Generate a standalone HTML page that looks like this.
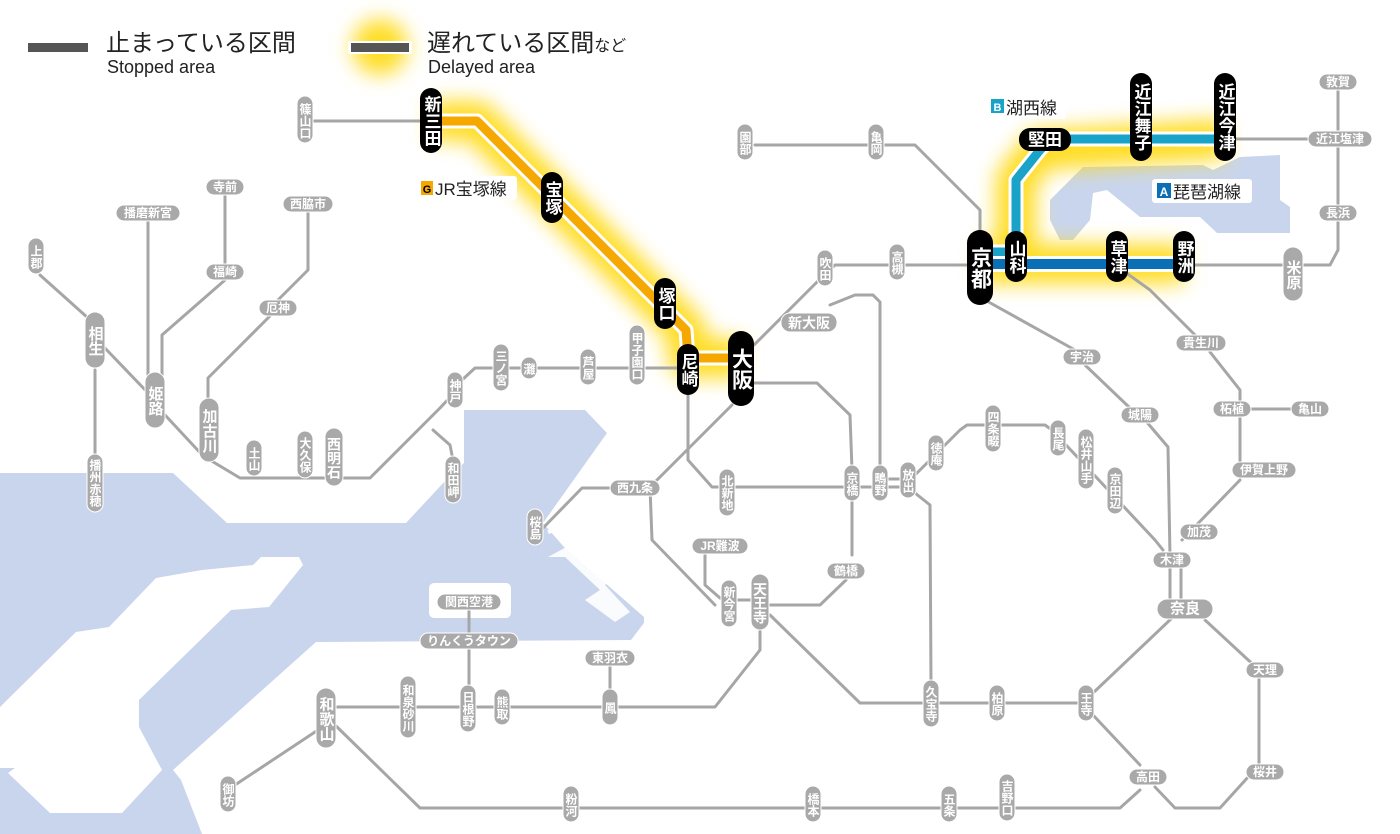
<!DOCTYPE html>
<html><head><meta charset="utf-8"><style>
html,body{margin:0;padding:0;background:#fff}
svg{display:block}
text{font-family:"Liberation Sans","Noto Sans CJK JP",sans-serif}
.ln{fill:none;stroke:#a6a6a6;stroke-width:3;stroke-linejoin:round;stroke-linecap:round}
.gp{fill:#a9a9a9;stroke:#fff;stroke-width:1}
.gt{fill:#fff;font-size:12px;font-weight:bold;text-anchor:middle;dominant-baseline:central}
.gv{fill:#fff;font-size:12px;font-weight:bold;text-anchor:middle;writing-mode:vertical-rl}
.gvb{fill:#fff;font-size:15px;font-weight:bold;text-anchor:middle;writing-mode:vertical-rl}
.bp{fill:#000}
.bv{fill:#fff;font-size:17px;font-weight:bold;text-anchor:middle;writing-mode:vertical-rl}
.bvb{fill:#fff;font-size:21px;font-weight:bold;text-anchor:middle;writing-mode:vertical-rl}
</style></head><body>
<svg width="1400" height="834" viewBox="0 0 1400 834" xmlns="http://www.w3.org/2000/svg">
<defs><filter id="bl" x="-50%" y="-50%" width="200%" height="200%"><feGaussianBlur stdDeviation="10"/></filter></defs>
<!-- sea -->
<polygon fill="#c9d5ec" points="0,473 173,473 227,523 406,523 446,480 464,463 464,410 585,410 607,433 543,523 564,547 644,617 644,623 631,640 316,642 173,770 181,780 202,834 0,834"/>
<polygon fill="#fff" points="0,707 76,632 109,627 156,578 202,570 253,565 261,557 299,557 303,565 269,607 231,610 139,700 139,727 162,770 122,813 50,813 8,773 15,768 0,768"/>
<rect x="429" y="583" width="82" height="35" rx="5" fill="#fff"/>
<polyline points="548,532 590,520 595,500" fill="none" stroke="#fff" stroke-width="4"/>
<polygon fill="#fff" points="548,557 565,557 600,590 585,600 615,622 630,612 605,585 612,578 570,545" opacity="0.9"/>
<!-- lake -->
<polygon fill="#c9d5ec" points="1050,200 1083,167 1203,165 1213,170 1240,157 1280,155 1280,200 1290,207 1290,233 1217,233 1200,217 1140,217 1107,190 1093,193 1090,220 1073,240 1060,240 1050,220"/>
<!-- glows -->
<g filter="url(#bl)" stroke="#ffd700" fill="none" stroke-width="40" stroke-linejoin="round" opacity="0.85">
<polyline points="431,121 477,121 686,330 688,358 741,358"/>
<polyline points="1000,255 1016,245 1016,180 1040,150 1225,139"/>
<polyline points="980,264 1184,264"/>
</g>
<g filter="url(#bl)"><circle cx="380" cy="47" r="28" fill="#ffd700" opacity="0.85"/></g>
<!-- gray lines -->
<g class="ln">
<polyline points="313,121 420,121"/>
<polyline points="40,275 88,318"/>
<polyline points="95,370 95,455"/>
<polyline points="102,345 150,395"/>
<polyline points="165,415 205,458"/>
<polyline points="210,460 240,478 370,478 440,408 455,392"/>
<polyline points="462,380 475,368 680,368"/>
<polyline points="433,430 450,445 453,460"/>
<polyline points="148,220 148,390"/>
<polyline points="225,195 225,265"/>
<polyline points="225,280 162,335 162,390"/>
<polyline points="308,212 308,270 278,300"/>
<polyline points="270,316 208,378 208,400"/>
<polyline points="754,345 822,277 835,265 975,265"/>
<polyline points="830,305 855,295 873,295 880,302 880,470"/>
<polyline points="754,383 817,383 850,415 852,470"/>
<polyline points="852,495 852,555"/>
<polyline points="846,580 820,605 770,605"/>
<polyline points="732,405 650,487 652,540 715,605"/>
<polyline points="688,395 688,460 712,487 900,487"/>
<polyline points="888,479 902,479"/>
<polyline points="915,475 960,430 967,425 1045,425 1052,430 1155,540 1163,550"/>
<polyline points="915,493 930,505 931,685"/>
<polyline points="620,488 582,488 543,528"/>
<polyline points="705,553 705,585 720,598"/>
<polyline points="738,600 752,600"/>
<polyline points="770,615 860,703 1087,703"/>
<polyline points="760,630 760,650 715,707 335,707"/>
<polyline points="610,658 610,700"/>
<polyline points="469,602 469,700"/>
<polyline points="318,730 235,785"/>
<polyline points="335,725 420,808 1120,808 1140,790"/>
<polyline points="1093,715 1140,765"/>
<polyline points="1093,693 1172,618"/>
<polyline points="1205,620 1259,670 1259,765 1220,808 1175,808 1155,787"/>
<polyline points="1170,566 1170,605"/>
<polyline points="1181,566 1181,605"/>
<polyline points="1145,420 1168,447 1170,556"/>
<polyline points="1085,365 1130,408"/>
<polyline points="985,300 1075,350"/>
<polyline points="1182,540 1240,480"/>
<polyline points="1240,470 1240,390 1210,352"/>
<polyline points="1240,409 1310,409"/>
<polyline points="1195,335 1150,290 1125,272"/>
<polyline points="755,145 915,145 980,210 980,230"/>
<polyline points="1195,265 1330,265 1338,250 1338,82"/>
<polyline points="1236,139 1330,139"/>
</g>
<!-- Takarazuka line -->
<polyline points="440,121 477,121 686,330 688,358 741,358" fill="none" stroke="#fff" stroke-width="15" stroke-linejoin="round"/>
<polyline points="440,121 477,121 686,330 688,358 741,358" fill="none" stroke="#f5a800" stroke-width="9" stroke-linejoin="round"/>
<!-- Kosei line -->
<polyline points="985,252 1016,252 1016,180 1040,150 1050,139 1225,139" fill="none" stroke="#fff" stroke-width="15" stroke-linejoin="round"/>
<polyline points="985,252 1016,252 1016,180 1040,150 1050,139 1225,139" fill="none" stroke="#19a3c9" stroke-width="9" stroke-linejoin="round"/>
<!-- Biwako line -->
<polyline points="985,264 1184,264" fill="none" stroke="#fff" stroke-width="16"/>
<polyline points="985,264 1184,264" fill="none" stroke="#0a6fb5" stroke-width="10"/>
<!-- legend -->
<rect x="28" y="43" width="60" height="9" fill="#555"/>
<rect x="348" y="41" width="64" height="13" fill="#fff"/>
<rect x="351" y="43" width="58" height="9" fill="#555"/>
<text x="106" y="51" font-size="24" fill="#222">止まっている区間</text>
<text x="107" y="73" font-size="18" fill="#222">Stopped area</text>
<text x="427" y="51" font-size="24" fill="#222">遅れている区間<tspan font-size="16">など</tspan></text>
<text x="428" y="73" font-size="18" fill="#222">Delayed area</text>
<!-- line labels -->
<rect x="417" y="176" width="100" height="24" rx="3" fill="#fff"/>
<rect x="421" y="181" width="12" height="14" fill="#f5a800"/>
<text x="427" y="193" font-size="11" font-weight="bold" text-anchor="middle" fill="#000">G</text>
<text x="435" y="195" font-size="17" fill="#222">JR宝塚線</text>
<rect x="986" y="95" width="80" height="24" rx="3" fill="#fff"/>
<rect x="991" y="99" width="13" height="14" fill="#19a3c9"/>
<text x="997.5" y="111" font-size="11" font-weight="bold" text-anchor="middle" fill="#fff">B</text>
<text x="1006" y="114" font-size="17" fill="#222">湖西線</text>
<rect x="1152" y="179" width="100" height="24" rx="3" fill="#fff"/>
<rect x="1157" y="183" width="14" height="15" fill="#0a6fb5"/>
<text x="1164" y="196" font-size="12" font-weight="bold" text-anchor="middle" fill="#fff">A</text>
<text x="1173" y="198" font-size="17" fill="#222">琵琶湖線</text>
<!-- vertical gray stations -->
<g>
<rect class="gp" x="297" y="96" width="16" height="47" rx="8"/><text class="gv" x="305" y="121">篠山口</text>
<rect class="gp" x="28" y="238" width="16" height="36" rx="8"/><text class="gv" x="36" y="257">上郡</text>
<rect class="gp" x="85" y="312" width="20" height="56" rx="10"/><text class="gvb" x="95" y="341">相生</text>
<rect class="gp" x="87" y="454" width="16" height="58" rx="8"/><text class="gv" x="95" y="483">播州赤穂</text>
<rect class="gp" x="145" y="372" width="20" height="56" rx="10"/><text class="gvb" x="155" y="401">姫路</text>
<rect class="gp" x="199" y="398" width="20" height="64" rx="10"/><text class="gvb" x="209" y="431">加古川</text>
<rect class="gp" x="246" y="440" width="16" height="36" rx="8"/><text class="gv" x="254" y="459">土山</text>
<rect class="gp" x="297" y="431" width="16" height="47" rx="8"/><text class="gv" x="305" y="455">大久保</text>
<rect class="gp" x="325" y="428" width="18" height="58" rx="9"/><text class="gvb" x="334" y="458" style="font-size:14px">西明石</text>
<rect class="gp" x="447" y="372" width="16" height="36" rx="8"/><text class="gv" x="455" y="391">神戸</text>
<rect class="gp" x="493" y="344" width="16" height="47" rx="8"/><text class="gv" x="501" y="368">三ノ宮</text>
<rect class="gp" x="521" y="357" width="16" height="22" rx="8"/><text class="gv" x="529" y="369">灘</text>
<rect class="gp" x="580" y="349" width="16" height="36" rx="8"/><text class="gv" x="588" y="368">芦屋</text>
<rect class="gp" x="629" y="325" width="16" height="60" rx="8"/><text class="gv" x="637" y="356">甲子園口</text>
<rect class="gp" x="445" y="456" width="16" height="47" rx="8"/><text class="gv" x="453" y="480">和田岬</text>
<rect class="gp" x="527" y="509" width="16" height="36" rx="8"/><text class="gv" x="535" y="528">桜島</text>
<rect class="gp" x="817" y="250" width="16" height="36" rx="8"/><text class="gv" x="825" y="269">吹田</text>
<rect class="gp" x="889" y="244" width="16" height="36" rx="8"/><text class="gv" x="897" y="263">高槻</text>
<rect class="gp" x="737" y="124" width="16" height="36" rx="8"/><text class="gv" x="745" y="143">園部</text>
<rect class="gp" x="868" y="124" width="16" height="36" rx="8"/><text class="gv" x="876" y="143">亀岡</text>
<rect class="gp" x="719" y="469" width="16" height="47" rx="8"/><text class="gv" x="727" y="493">北新地</text>
<rect class="gp" x="844" y="465" width="16" height="36" rx="8"/><text class="gv" x="852" y="484">京橋</text>
<rect class="gp" x="872" y="465" width="16" height="36" rx="8"/><text class="gv" x="880" y="484">鴫野</text>
<rect class="gp" x="900" y="462" width="16" height="36" rx="8"/><text class="gv" x="908" y="481">放出</text>
<rect class="gp" x="928" y="435" width="16" height="36" rx="8"/><text class="gv" x="936" y="454">徳庵</text>
<rect class="gp" x="985" y="405" width="16" height="47" rx="8"/><text class="gv" x="993" y="429">四条畷</text>
<rect class="gp" x="1050" y="420" width="16" height="36" rx="8"/><text class="gv" x="1058" y="439">長尾</text>
<rect class="gp" x="1078" y="429" width="16" height="60" rx="8"/><text class="gv" x="1086" y="460">松井山手</text>
<rect class="gp" x="1107" y="467" width="16" height="47" rx="8"/><text class="gv" x="1115" y="491">京田辺</text>
<rect class="gp" x="721" y="580" width="16" height="47" rx="8"/><text class="gv" x="729" y="604">新今宮</text>
<rect class="gp" x="751" y="574" width="18" height="56" rx="9"/><text class="gvb" x="760" y="603" style="font-size:14px">天王寺</text>
<rect class="gp" x="923" y="680" width="16" height="47" rx="8"/><text class="gv" x="931" y="704">久宝寺</text>
<rect class="gp" x="989" y="685" width="16" height="36" rx="8"/><text class="gv" x="997" y="704">柏原</text>
<rect class="gp" x="1078" y="685" width="16" height="36" rx="8"/><text class="gv" x="1086" y="704">王寺</text>
<rect class="gp" x="316" y="688" width="20" height="60" rx="10"/><text class="gvb" x="326" y="719" style="font-size:15px">和歌山</text>
<rect class="gp" x="400" y="676" width="16" height="62" rx="8"/><text class="gv" x="408" y="708">和泉砂川</text>
<rect class="gp" x="460" y="685" width="16" height="47" rx="8"/><text class="gv" x="468" y="709">日根野</text>
<rect class="gp" x="494" y="689" width="16" height="36" rx="8"/><text class="gv" x="502" y="708">熊取</text>
<rect class="gp" x="602" y="689" width="16" height="36" rx="8"/><text class="gv" x="610" y="708">鳳</text>
<rect class="gp" x="220" y="776" width="16" height="36" rx="8"/><text class="gv" x="228" y="795">御坊</text>
<rect class="gp" x="563" y="786" width="16" height="36" rx="8"/><text class="gv" x="571" y="805">粉河</text>
<rect class="gp" x="805" y="786" width="16" height="36" rx="8"/><text class="gv" x="813" y="805">橋本</text>
<rect class="gp" x="941" y="786" width="16" height="36" rx="8"/><text class="gv" x="949" y="805">五条</text>
<rect class="gp" x="999" y="774" width="16" height="47" rx="8"/><text class="gv" x="1007" y="798">吉野口</text>
<rect class="gp" x="1283" y="247" width="20" height="54" rx="10"/><text class="gvb" x="1293" y="275">米原</text>
</g>
<!-- horizontal gray stations -->
<g>
<rect class="gp" x="116" y="205" width="64" height="16" rx="8"/><text class="gt" x="148" y="213">播磨新宮</text>
<rect class="gp" x="206" y="179" width="38" height="16" rx="8"/><text class="gt" x="225" y="187">寺前</text>
<rect class="gp" x="206" y="264" width="38" height="16" rx="8"/><text class="gt" x="225" y="272">福崎</text>
<rect class="gp" x="283" y="196" width="50" height="16" rx="8"/><text class="gt" x="308" y="204">西脇市</text>
<rect class="gp" x="259" y="300" width="38" height="16" rx="8"/><text class="gt" x="278" y="308">厄神</text>
<rect class="gp" x="781" y="313" width="56" height="19" rx="9"/><text class="gt" x="809" y="323" style="font-size:14px">新大阪</text>
<rect class="gp" x="610" y="480" width="50" height="16" rx="8"/><text class="gt" x="635" y="488">西九条</text>
<rect class="gp" x="692" y="538" width="56" height="16" rx="8"/><text class="gt" x="720" y="546">JR難波</text>
<rect class="gp" x="827" y="563" width="38" height="16" rx="8"/><text class="gt" x="846" y="571">鶴橋</text>
<rect class="gp" x="585" y="650" width="50" height="16" rx="8"/><text class="gt" x="610" y="658">東羽衣</text>
<rect class="gp" x="420" y="633" width="98" height="16" rx="8"/><text class="gt" x="469" y="641">りんくうタウン</text>
<rect class="gp" x="437" y="594" width="64" height="16" rx="8"/><text class="gt" x="469" y="602">関西空港</text>
<rect class="gp" x="1063" y="349" width="38" height="16" rx="8"/><text class="gt" x="1082" y="357">宇治</text>
<rect class="gp" x="1121" y="407" width="38" height="16" rx="8"/><text class="gt" x="1140" y="415">城陽</text>
<rect class="gp" x="1153" y="552" width="38" height="16" rx="8"/><text class="gt" x="1172" y="560">木津</text>
<rect class="gp" x="1180" y="524" width="38" height="16" rx="8"/><text class="gt" x="1199" y="532">加茂</text>
<rect class="gp" x="1157" y="599" width="56" height="20" rx="10"/><text class="gt" x="1185" y="609" style="font-size:15px">奈良</text>
<rect class="gp" x="1246" y="662" width="38" height="16" rx="8"/><text class="gt" x="1265" y="670">天理</text>
<rect class="gp" x="1246" y="764" width="38" height="16" rx="8"/><text class="gt" x="1265" y="772">桜井</text>
<rect class="gp" x="1129" y="769" width="38" height="16" rx="8"/><text class="gt" x="1148" y="777">高田</text>
<rect class="gp" x="1176" y="335" width="50" height="16" rx="8"/><text class="gt" x="1201" y="343">貴生川</text>
<rect class="gp" x="1213" y="401" width="38" height="16" rx="8"/><text class="gt" x="1232" y="409">柘植</text>
<rect class="gp" x="1291" y="401" width="38" height="16" rx="8"/><text class="gt" x="1310" y="409">亀山</text>
<rect class="gp" x="1232" y="462" width="64" height="16" rx="8"/><text class="gt" x="1264" y="470">伊賀上野</text>
<rect class="gp" x="1319" y="74" width="38" height="16" rx="8"/><text class="gt" x="1338" y="82">敦賀</text>
<rect class="gp" x="1308" y="131" width="64" height="16" rx="8"/><text class="gt" x="1340" y="139">近江塩津</text>
<rect class="gp" x="1319" y="205" width="38" height="16" rx="8"/><text class="gt" x="1338" y="213">長浜</text>
</g>
<!-- black stations -->
<g>
<rect class="bp" x="420" y="88" width="22" height="65" rx="11"/><text class="bv" x="431" y="121">新三田</text>
<rect class="bp" x="541" y="172" width="22" height="51" rx="11"/><text class="bv" x="552" y="198">宝塚</text>
<rect class="bp" x="654" y="278" width="22" height="51" rx="11"/><text class="bv" x="665" y="304">塚口</text>
<rect class="bp" x="677" y="344" width="22" height="51" rx="11"/><text class="bv" x="688" y="370">尼崎</text>
<rect class="bp" x="728" y="331" width="26" height="75" rx="13"/><text class="bvb" x="741" y="369">大阪</text>
<rect class="bp" x="967" y="230" width="26" height="75" rx="13"/><text class="bvb" x="980" y="268">京都</text>
<rect class="bp" x="1005" y="231" width="22" height="51" rx="11"/><text class="bv" x="1016" y="257">山科</text>
<rect class="bp" x="1106" y="231" width="22" height="51" rx="11"/><text class="bv" x="1117" y="257">草津</text>
<rect class="bp" x="1173" y="231" width="22" height="51" rx="11"/><text class="bv" x="1184" y="257">野洲</text>
<rect class="bp" x="1130" y="73" width="22" height="88" rx="11"/><text class="bv" x="1141" y="117">近江舞子</text>
<rect class="bp" x="1214" y="73" width="22" height="88" rx="11"/><text class="bv" x="1225" y="117">近江今津</text>
<rect class="bp" x="1019" y="128" width="52" height="23" rx="11"/><text x="1045" y="140" font-size="17" font-weight="bold" fill="#fff" text-anchor="middle" dominant-baseline="central">堅田</text>
</g>
</svg>
</body></html>
